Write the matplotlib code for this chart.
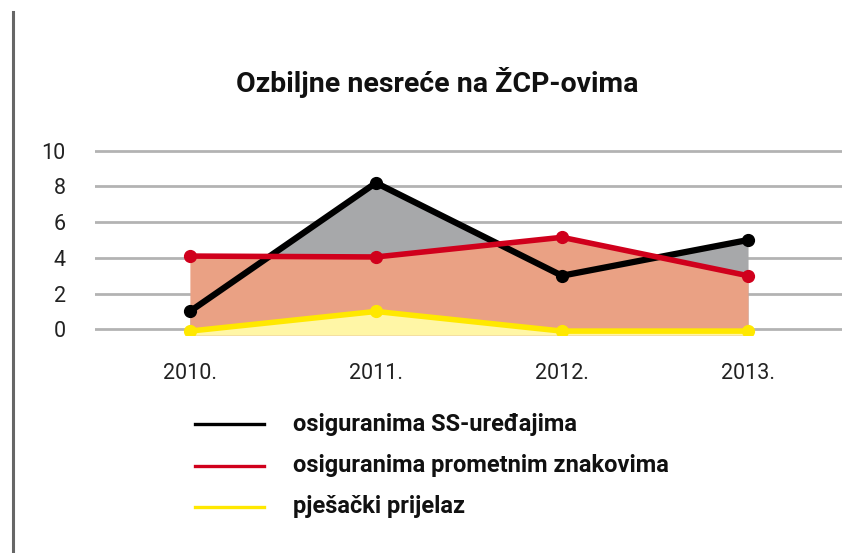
import numpy as np
import matplotlib
matplotlib.use("Agg")
import matplotlib.pyplot as plt
from matplotlib.lines import Line2D

plt.rcParams["font.family"] = ["Roboto", "DejaVu Sans"]

YEARS = ["2010.", "2011.", "2012.", "2013."]
SS_UREDJAJI = [1.0, 8.2, 3.0, 5.0]
ZNAKOVI = [4.1, 4.05, 5.15, 3.0]
PRIJELAZ = [-0.1, 1.0, -0.1, -0.1]
LABELS = ["osiguranima SS-uređajima", "osiguranima prometnim znakovima", "pješački prijelaz"]

BASE = -0.33
LINE_COLORS = ["#000000", "#D0001C", "#FFE800"]
FILL_COLORS = ["#A7A8AA", "#EAA184", "#FFF6A6"]


def main():
    fig = plt.figure(figsize=(8.66, 5.53), dpi=100)
    ax = fig.add_axes([95 / 866, 1 - 335.2 / 553, (842 - 95) / 866, (335.2 - 148.9) / 553])

    x = np.arange(len(YEARS))
    series = [SS_UREDJAJI, ZNAKOVI, PRIJELAZ]

    # površine redom: siva, lososova, žuta
    for vals, fc in zip(series, FILL_COLORS):
        ax.fill_between(x, vals, BASE, color=fc, linewidth=0, zorder=2)
    for vals, lc, lw in zip(series, LINE_COLORS, [4.5, 4.0, 4.0]):
        ax.plot(x, vals, color=lc, lw=lw, marker="o", ms=8.5, solid_capstyle="round",
                solid_joinstyle="miter", zorder=3)

    ax.set_xlim(-0.51, 3.505)
    ax.set_ylim(BASE, 10.1)
    ax.set_yticks([0, 2, 4, 6, 8, 10])
    ax.set_xticks(x)
    ax.set_xticklabels(YEARS)
    ax.yaxis.grid(True, color="#B3B3B3", lw=2.0, zorder=1)
    ax.set_axisbelow(True)
    for s in ax.spines.values():
        s.set_visible(False)
    ax.tick_params(axis="y", length=0, pad=21, labelsize=15.5, labelcolor="#222222")
    ax.tick_params(axis="x", length=0, pad=20, labelsize=15.5, labelcolor="#222222")

    fig.text(437 / 866, 1 - 83 / 553, "Ozbiljne nesreće na ŽCP-ovima", ha="center", va="center",
             fontsize=20.5, fontweight="bold", color="#111111")

    # legenda
    for i, (lab, lc) in enumerate(zip(LABELS, LINE_COLORS)):
        yy = 1 - (424 + i * 41.5) / 553
        fig.add_artist(Line2D([195 / 866, 264 / 866], [yy, yy], color=lc, lw=2.4,
                              transform=fig.transFigure))
        fig.text(293 / 866, yy, lab, ha="left", va="center", fontsize=17,
                 fontweight="bold", color="#111111")

    # okvir lijevo
    fig.add_artist(Line2D([12.5 / 866, 12.5 / 866], [0, 1 - 12 / 553], color="#666666",
                          lw=2.2, transform=fig.transFigure))

    fig.savefig("out.png", dpi=100)
    plt.close(fig)


if __name__ == "__main__":
    main()
